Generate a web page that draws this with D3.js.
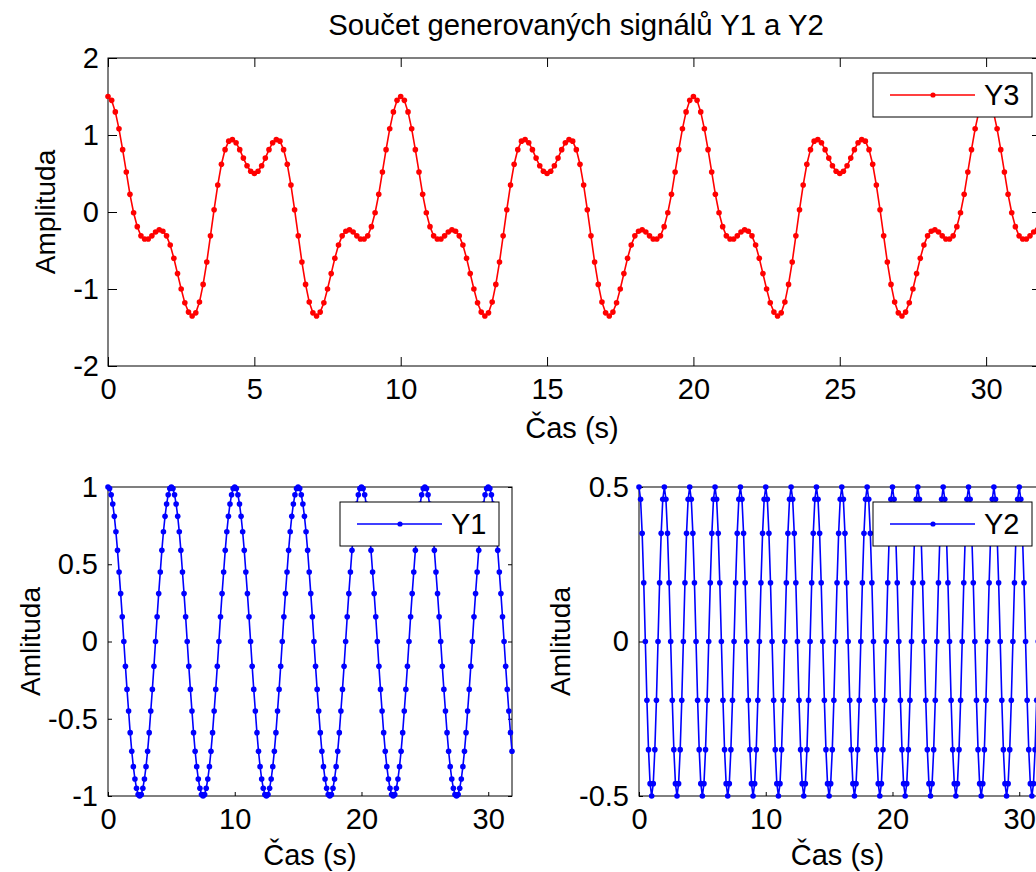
<!DOCTYPE html>
<html><head><meta charset="utf-8">
<script src="https://cdn.jsdelivr.net/npm/d3@7"></script>
<style>
html,body{margin:0;padding:0;background:#fff;overflow:hidden;}
svg{display:block;}
text{font-family:"Liberation Sans",Arial,Helvetica,sans-serif;fill:#000;}
</style></head><body><svg id="chart" width="1060" height="872"></svg>
<script>
// sampling step of the time axis (s); sample i is at time i*sampleStep
const sampleStep = 0.125;

const Y1 = [
1,0.99,0.95,0.89,0.81,0.71,0.59,0.45,0.31,0.16,0,-0.16,-0.31,-0.45,-0.59,-0.71,-0.81,-0.89,-0.95,-0.99,-1,-0.99,-0.95,-0.89,-0.81,-0.71,-0.59,-0.45,-0.31,-0.16,0,0.16,0.31,0.45,0.59,0.71,0.81,0.89,0.95,0.99,
1,0.99,0.95,0.89,0.81,0.71,0.59,0.45,0.31,0.16,0,-0.16,-0.31,-0.45,-0.59,-0.71,-0.81,-0.89,-0.95,-0.99,-1,-0.99,-0.95,-0.89,-0.81,-0.71,-0.59,-0.45,-0.31,-0.16,0,0.16,0.31,0.45,0.59,0.71,0.81,0.89,0.95,0.99,
1,0.99,0.95,0.89,0.81,0.71,0.59,0.45,0.31,0.16,0,-0.16,-0.31,-0.45,-0.59,-0.71,-0.81,-0.89,-0.95,-0.99,-1,-0.99,-0.95,-0.89,-0.81,-0.71,-0.59,-0.45,-0.31,-0.16,0,0.16,0.31,0.45,0.59,0.71,0.81,0.89,0.95,0.99,
1,0.99,0.95,0.89,0.81,0.71,0.59,0.45,0.31,0.16,0,-0.16,-0.31,-0.45,-0.59,-0.71,-0.81,-0.89,-0.95,-0.99,-1,-0.99,-0.95,-0.89,-0.81,-0.71,-0.59,-0.45,-0.31,-0.16,0,0.16,0.31,0.45,0.59,0.71,0.81,0.89,0.95,0.99,
1,0.99,0.95,0.89,0.81,0.71,0.59,0.45,0.31,0.16,0,-0.16,-0.31,-0.45,-0.59,-0.71,-0.81,-0.89,-0.95,-0.99,-1,-0.99,-0.95,-0.89,-0.81,-0.71,-0.59,-0.45,-0.31,-0.16,0,0.16,0.31,0.45,0.59,0.71,0.81,0.89,0.95,0.99,
1,0.99,0.95,0.89,0.81,0.71,0.59,0.45,0.31,0.16,0,-0.16,-0.31,-0.45,-0.59,-0.71,-0.81,-0.89,-0.95,-0.99,-1,-0.99,-0.95,-0.89,-0.81,-0.71,-0.59,-0.45,-0.31,-0.16,0,0.16,0.31,0.45,0.59,0.71,0.81,0.89,0.95,0.99,
1,0.99,0.95,0.89,0.81,0.71,0.59,0.45,0.31,0.16,0,-0.16,-0.31,-0.45,-0.59,-0.71
];

const Y2 = [
0.5,0.46,0.35,0.19,0,-0.19,-0.35,-0.46,-0.5,-0.46,-0.35,-0.19,0,0.19,0.35,0.46,
0.5,0.46,0.35,0.19,0,-0.19,-0.35,-0.46,-0.5,-0.46,-0.35,-0.19,0,0.19,0.35,0.46,
0.5,0.46,0.35,0.19,0,-0.19,-0.35,-0.46,-0.5,-0.46,-0.35,-0.19,0,0.19,0.35,0.46,
0.5,0.46,0.35,0.19,0,-0.19,-0.35,-0.46,-0.5,-0.46,-0.35,-0.19,0,0.19,0.35,0.46,
0.5,0.46,0.35,0.19,0,-0.19,-0.35,-0.46,-0.5,-0.46,-0.35,-0.19,0,0.19,0.35,0.46,
0.5,0.46,0.35,0.19,0,-0.19,-0.35,-0.46,-0.5,-0.46,-0.35,-0.19,0,0.19,0.35,0.46,
0.5,0.46,0.35,0.19,0,-0.19,-0.35,-0.46,-0.5,-0.46,-0.35,-0.19,0,0.19,0.35,0.46,
0.5,0.46,0.35,0.19,0,-0.19,-0.35,-0.46,-0.5,-0.46,-0.35,-0.19,0,0.19,0.35,0.46,
0.5,0.46,0.35,0.19,0,-0.19,-0.35,-0.46,-0.5,-0.46,-0.35,-0.19,0,0.19,0.35,0.46,
0.5,0.46,0.35,0.19,0,-0.19,-0.35,-0.46,-0.5,-0.46,-0.35,-0.19,0,0.19,0.35,0.46,
0.5,0.46,0.35,0.19,0,-0.19,-0.35,-0.46,-0.5,-0.46,-0.35,-0.19,0,0.19,0.35,0.46,
0.5,0.46,0.35,0.19,0,-0.19,-0.35,-0.46,-0.5,-0.46,-0.35,-0.19,0,0.19,0.35,0.46,
0.5,0.46,0.35,0.19,0,-0.19,-0.35,-0.46,-0.5,-0.46,-0.35,-0.19,0,0.19,0.35,0.46,
0.5,0.46,0.35,0.19,0,-0.19,-0.35,-0.46,-0.5,-0.46,-0.35,-0.19,0,0.19,0.35,0.46,
0.5,0.46,0.35,0.19,0,-0.19,-0.35,-0.46,-0.5,-0.46,-0.35,-0.19,0,0.19,0.35,0.46,
0.5,0.46,0.35,0.19,0,-0.19,-0.35,-0.46,-0.5,-0.46,-0.35,-0.19,0,0.19,0.35,0.46
];

const Y3 = [
1.5,1.45,1.3,1.08,0.81,0.52,0.23,-0.01,-0.19,-0.31,-0.35,-0.35,-0.31,-0.26,-0.23,-0.25,-0.31,-0.43,-0.6,-0.8,-1,-1.18,-1.3,-1.35,-1.31,-1.17,-0.94,-0.65,-0.31,0.03,0.35,0.62,0.81,0.92,0.94,0.9,0.81,0.7,0.6,0.53,
0.5,0.53,0.6,0.7,0.81,0.9,0.94,0.92,0.81,0.62,0.35,0.03,-0.31,-0.65,-0.94,-1.17,-1.31,-1.35,-1.3,-1.18,-1,-0.8,-0.6,-0.43,-0.31,-0.25,-0.23,-0.26,-0.31,-0.35,-0.35,-0.31,-0.19,-0.01,0.23,0.52,0.81,1.08,1.3,1.45,
1.5,1.45,1.3,1.08,0.81,0.52,0.23,-0.01,-0.19,-0.31,-0.35,-0.35,-0.31,-0.26,-0.23,-0.25,-0.31,-0.43,-0.6,-0.8,-1,-1.18,-1.3,-1.35,-1.31,-1.17,-0.94,-0.65,-0.31,0.03,0.35,0.62,0.81,0.92,0.94,0.9,0.81,0.7,0.6,0.53,
0.5,0.53,0.6,0.7,0.81,0.9,0.94,0.92,0.81,0.62,0.35,0.03,-0.31,-0.65,-0.94,-1.17,-1.31,-1.35,-1.3,-1.18,-1,-0.8,-0.6,-0.43,-0.31,-0.25,-0.23,-0.26,-0.31,-0.35,-0.35,-0.31,-0.19,-0.01,0.23,0.52,0.81,1.08,1.3,1.45,
1.5,1.45,1.3,1.08,0.81,0.52,0.23,-0.01,-0.19,-0.31,-0.35,-0.35,-0.31,-0.26,-0.23,-0.25,-0.31,-0.43,-0.6,-0.8,-1,-1.18,-1.3,-1.35,-1.31,-1.17,-0.94,-0.65,-0.31,0.03,0.35,0.62,0.81,0.92,0.94,0.9,0.81,0.7,0.6,0.53,
0.5,0.53,0.6,0.7,0.81,0.9,0.94,0.92,0.81,0.62,0.35,0.03,-0.31,-0.65,-0.94,-1.17,-1.31,-1.35,-1.3,-1.18,-1,-0.8,-0.6,-0.43,-0.31,-0.25,-0.23,-0.26,-0.31,-0.35,-0.35,-0.31,-0.19,-0.01,0.23,0.52,0.81,1.08,1.3,1.45,
1.5,1.45,1.3,1.08,0.81,0.52,0.23,-0.01,-0.19,-0.31,-0.35,-0.35,-0.31,-0.26,-0.23,-0.25
];

const titleText = "Součet generovaných signálů Y1 a Y2";
const xLabelText = "Čas (s)";
const topYLabel = "Amplituda";
const bottomYLabel = "Amlituda";
const seriesNames = ["Y1", "Y2", "Y3"];
const timeDomain = [0, 31.875];
const topXTicks = [0, 5, 10, 15, 20, 25, 30];
const topYTicks = [-2, -1, 0, 1, 2];
const bottomXTicks = [0, 10, 20, 30];
const y1Ticks = [-1, -0.5, 0, 0.5, 1];
const y2Ticks = [-0.5, 0, 0.5];

const svg = d3.select("#chart");
const FONT = 29;

function panel(cfg) {
  const x = d3.scaleLinear().domain(timeDomain).range([cfg.left, cfg.right]);
  const y = d3.scaleLinear().domain(cfg.yDomain).range([cfg.bottom, cfg.top]);
  const g = svg.append("g");
  const L = cfg.tickLen;

  const styleAxis = sel => {
    sel.select(".domain").remove();
    sel.selectAll(".tick line").attr("stroke", "#000").attr("stroke-width", 1);
    sel.selectAll("text").attr("font-size", FONT)
      .attr("font-family", '"Liberation Sans",Arial,Helvetica,sans-serif').attr("fill", "#000");
  };
  g.append("g").attr("transform", `translate(0,${cfg.bottom})`)
    .call(d3.axisBottom(x).tickValues(cfg.xTicks).tickFormat(d => String(d)).tickSizeInner(-L).tickSizeOuter(0).tickPadding(12))
    .call(styleAxis);
  g.append("g").attr("transform", `translate(0,${cfg.top})`)
    .call(d3.axisTop(x).tickValues(cfg.xTicks).tickFormat(() => "").tickSizeInner(-L).tickSizeOuter(0))
    .call(styleAxis);
  g.append("g").attr("transform", `translate(${cfg.left},0)`)
    .call(d3.axisLeft(y).tickValues(cfg.yTicks).tickFormat(d => String(d)).tickSizeInner(-L).tickSizeOuter(0).tickPadding(cfg.yPad))
    .call(styleAxis);
  g.append("g").attr("transform", `translate(${cfg.right},0)`)
    .call(d3.axisRight(y).tickValues(cfg.yTicks).tickFormat(() => "").tickSizeInner(-L).tickSizeOuter(0))
    .call(styleAxis);

  g.append("rect").attr("x", cfg.left).attr("y", cfg.top)
    .attr("width", cfg.right - cfg.left).attr("height", cfg.bottom - cfg.top)
    .attr("fill", "none").attr("stroke", "#000").attr("stroke-width", 1);

  const line = d3.line().x((d, i) => x(i * sampleStep)).y(d => y(d));
  g.append("path").datum(cfg.data).attr("d", line)
    .attr("fill", "none").attr("stroke", cfg.color).attr("stroke-width", 1.6);
  g.append("g").selectAll("circle").data(cfg.data).join("circle")
    .attr("cx", (d, i) => x(i * sampleStep)).attr("cy", d => y(d))
    .attr("r", 2.8).attr("fill", cfg.color);

  // axis labels
  g.append("text").attr("x", (cfg.left + Math.min(cfg.right, 1036)) / 2 + cfg.xLabelShift).attr("y", cfg.xLabelY)
    .attr("text-anchor", "middle").attr("font-size", FONT).text(xLabelText);
  g.append("text").attr("transform", `translate(${cfg.yLabelX},${(cfg.top + cfg.bottom) / 2}) rotate(-90)`)
    .attr("text-anchor", "middle").attr("font-size", 28).text(cfg.yLabel);

  // legend
  const lg = g.append("g");
  const lx = cfg.legendRight - 159, ly = cfg.legendTop;
  lg.append("rect").attr("x", lx).attr("y", ly).attr("width", 159).attr("height", 44)
    .attr("fill", "#fff").attr("stroke", "#000").attr("stroke-width", 1);
  lg.append("line").attr("x1", lx + 17).attr("x2", lx + 102).attr("y1", ly + 22).attr("y2", ly + 22)
    .attr("stroke", cfg.color).attr("stroke-width", 1.4);
  lg.append("circle").attr("cx", lx + 60).attr("cy", ly + 22).attr("r", 2.6).attr("fill", cfg.color);
  lg.append("text").attr("x", lx + 111).attr("y", ly + 22).attr("dy", "0.36em")
    .attr("font-size", FONT).text(cfg.name);
}

// title
svg.append("text").attr("x", 576).attr("y", 35).attr("text-anchor", "middle")
  .attr("font-size", 29.3).text(titleText);

panel({left: 108, right: 1041, top: 58, bottom: 366, yDomain: [-2, 2],
  xTicks: topXTicks, yTicks: topYTicks, tickLen: 9, yPad: 9, data: Y3, color: "#ff0000",
  yLabel: topYLabel, yLabelX: 55, xLabelY: 438, xLabelShift: 0, name: seriesNames[2],
  legendRight: 1032, legendTop: 73});
panel({left: 108, right: 512, top: 487, bottom: 796, yDomain: [-1, 1],
  xTicks: bottomXTicks, yTicks: y1Ticks, tickLen: 4, yPad: 10, data: Y1, color: "#0000ff",
  yLabel: bottomYLabel, yLabelX: 40, xLabelY: 865, xLabelShift: 0, name: seriesNames[0],
  legendRight: 499, legendTop: 502});
panel({left: 639, right: 1043, top: 487, bottom: 796, yDomain: [-0.5, 0.5],
  xTicks: bottomXTicks, yTicks: y2Ticks, tickLen: 4, yPad: 10, data: Y2, color: "#0000ff",
  yLabel: bottomYLabel, yLabelX: 570, xLabelY: 865, xLabelShift: 0, name: seriesNames[1],
  legendRight: 1032, legendTop: 502});
</script></body></html>
